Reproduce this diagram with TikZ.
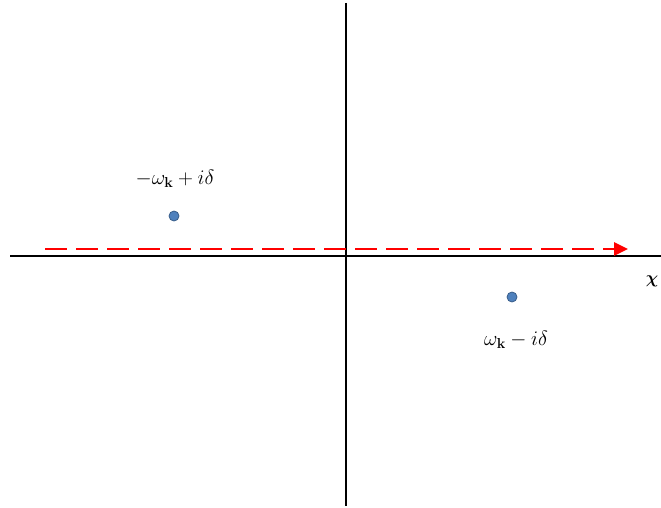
\documentclass[tikz,border=0pt]{standalone}
\usepackage{amsmath,amssymb,bm}
\usetikzlibrary{arrows.meta}
\begin{document}
\begin{tikzpicture}[x=1pt,y=-1pt,
  axis/.style={line width=2pt,black},
  contour/.style={line width=2.6pt,red,dash pattern=on 22pt off 9pt,-{Triangle[length=14pt,width=13pt]}},
  pole/.style={circle,fill={rgb,255:red,79;green,129;blue,189},draw={rgb,255:red,56;green,93;blue,138},line width=0.8pt,minimum size=10pt,inner sep=0pt},
  lbl/.style={font=\fontsize{20.5}{23}\selectfont,inner sep=0pt}]
\useasboundingbox (0,0) rectangle (661,508);
\coordinate (xl) at (10,256);
\coordinate (xr) at (661,256);
\coordinate (yt) at (346,3);
\coordinate (yb) at (346,506);
\draw[axis] (xl) -- (xr);
\draw[axis] (yt) -- (yb);
\coordinate (cs) at (45,249);
\coordinate (ce) at (628,249);
\draw[contour] (cs) -- (ce);
\node[pole] (p1) at (174,216) {};
\node[pole] (p2) at (512,297) {};
\node[lbl] (l1) at (175,179) {$-\omega_{\mathbf{k}}+i\delta$};
\node[lbl] (l2) at (516,340) {$\omega_{\mathbf{k}}-i\delta$};
\node[font=\fontsize{19}{21}\selectfont,inner sep=0pt] (chi) at (652,281) {$\bm{\chi}$};
\end{tikzpicture}
\end{document}
